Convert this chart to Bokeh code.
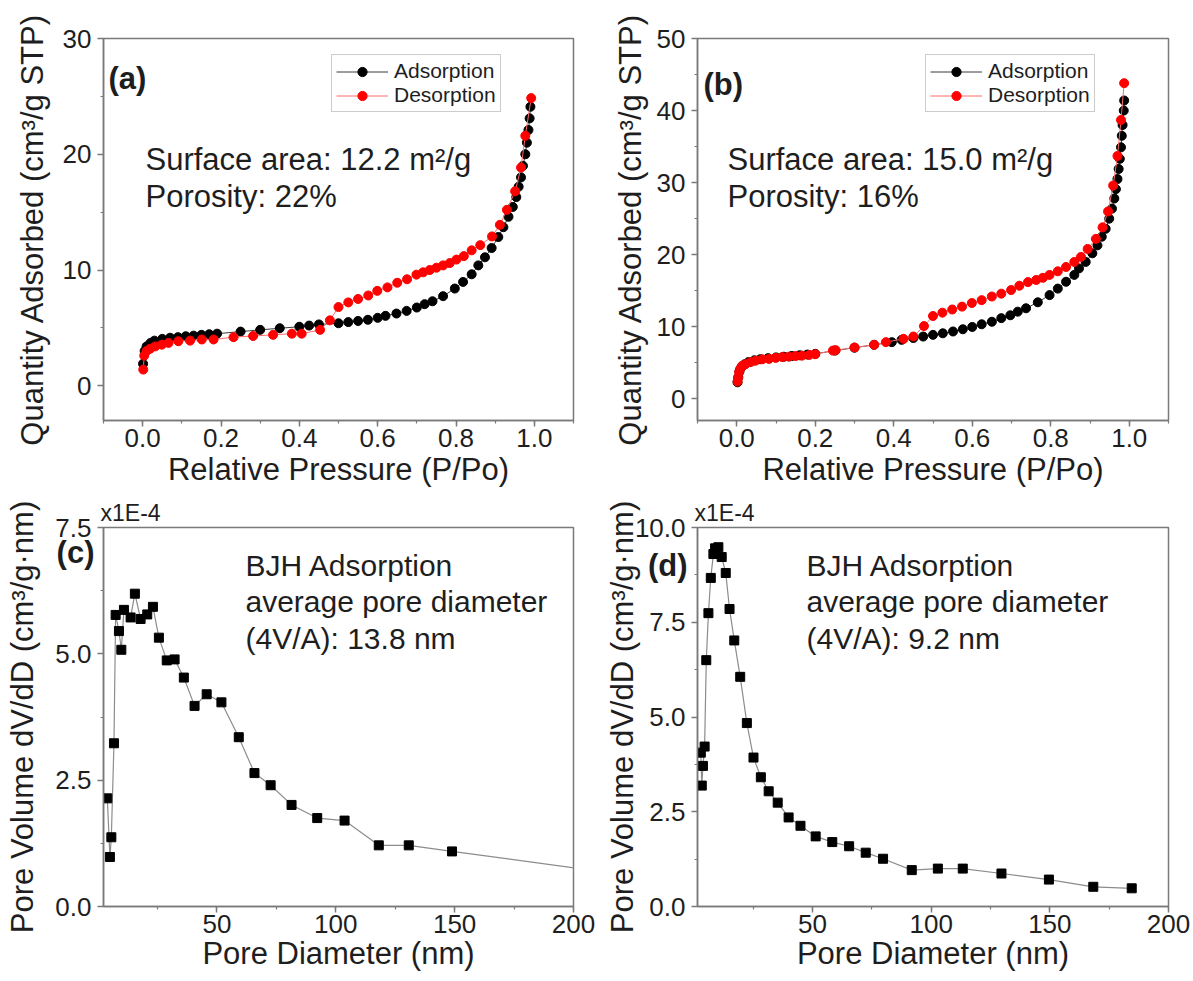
from bokeh.plotting import figure
from bokeh.layouts import column, row
from bokeh.models import (Range1d, SingleIntervalTicker, Label, Legend, LegendItem,
                          PrintfTickFormatter, LinearAxis, FixedTicker, CustomJSTickFormatter)
from bokeh.embed import file_html
from bokeh.resources import INLINE

# ---------------- data ----------------
# (a) isotherm, relative pressure P/Po vs quantity adsorbed (cm3/g STP)
ads_a_x = [0.001, 0.005, 0.01, 0.02, 0.03, 0.05, 0.07, 0.09, 0.11, 0.13, 0.15, 0.17, 0.19,
           0.25, 0.30, 0.35, 0.40, 0.425, 0.45, 0.50, 0.525, 0.55, 0.575, 0.60, 0.62, 0.648,
           0.674, 0.70, 0.72, 0.74, 0.767, 0.797, 0.818, 0.84, 0.857, 0.874, 0.891, 0.908,
           0.921, 0.934, 0.945, 0.954, 0.96, 0.966, 0.971, 0.977, 0.981, 0.985, 0.988, 0.99]
ads_a_y = [1.9, 3.0, 3.4, 3.7, 3.9, 4.05, 4.15, 4.2, 4.28, 4.33, 4.4, 4.45, 4.5,
           4.68, 4.83, 4.97, 5.1, 5.2, 5.3, 5.4, 5.5, 5.6, 5.7, 5.87, 6.04, 6.24,
           6.47, 6.76, 7.05, 7.3, 7.74, 8.4, 8.97, 9.63, 10.4, 11.1, 11.9, 12.85,
           13.7, 14.6, 15.45, 16.3, 17.2, 18.0, 19.0, 20.0, 21.0, 22.1, 23.1, 24.1]
des_a_x = [0.992, 0.977, 0.966, 0.951, 0.93, 0.912, 0.892, 0.862, 0.84, 0.82, 0.801, 0.784,
           0.767, 0.75, 0.733, 0.716, 0.699, 0.675, 0.65, 0.625, 0.599, 0.576, 0.55, 0.525,
           0.5, 0.478, 0.453, 0.406, 0.381, 0.333, 0.282, 0.232, 0.181, 0.151, 0.121, 0.091,
           0.066, 0.049, 0.032, 0.019, 0.01, 0.004, 0.0015]
des_a_y = [24.85, 21.6, 18.85, 16.8, 15.2, 13.9, 12.9, 12.15, 11.7, 11.2, 10.9, 10.6,
           10.4, 10.2, 10.0, 9.8, 9.6, 9.2, 8.9, 8.5, 8.2, 7.8, 7.5, 7.2,
           6.8, 5.65, 4.83, 4.5, 4.5, 4.4, 4.3, 4.2, 4.0, 4.0, 3.9, 3.85,
           3.7, 3.55, 3.4, 3.2, 3.0, 2.6, 1.4]

# (b) isotherm
ads_b_x = [0.002, 0.004, 0.007, 0.012, 0.02, 0.03, 0.045, 0.06, 0.08, 0.1, 0.12, 0.14, 0.16,
           0.18, 0.2, 0.25, 0.3, 0.35, 0.395, 0.42, 0.45, 0.475, 0.5, 0.525, 0.551, 0.576,
           0.6, 0.624, 0.65, 0.674, 0.697, 0.716, 0.737, 0.767, 0.797, 0.818, 0.839, 0.86,
           0.872, 0.889, 0.906, 0.919, 0.93, 0.94, 0.949, 0.956, 0.962, 0.966, 0.97, 0.973,
           0.976, 0.979, 0.981, 0.983, 0.986, 0.987]
ads_b_y = [2.3, 3.0, 3.8, 4.4, 4.8, 5.1, 5.35, 5.5, 5.65, 5.75, 5.85, 5.95, 6.05,
           6.15, 6.25, 6.7, 7.1, 7.5, 7.87, 8.19, 8.45, 8.65, 8.88, 9.1, 9.35, 9.66,
           9.98, 10.35, 10.7, 11.2, 11.6, 12.1, 12.57, 13.4, 14.4, 15.3, 16.25, 17.2,
           18.1, 19.0, 20.2, 21.3, 22.5, 23.6, 25.0, 26.4, 27.8, 29.1, 30.5, 31.9,
           33.3, 34.9, 36.5, 38.0, 40.0, 41.4]
des_b_x = [0.987, 0.979, 0.97, 0.959, 0.946, 0.932, 0.915, 0.894, 0.877, 0.86, 0.839, 0.818,
           0.797, 0.78, 0.763, 0.742, 0.72, 0.699, 0.674, 0.65, 0.624, 0.599, 0.574, 0.549,
           0.524, 0.5, 0.477, 0.45, 0.425, 0.38, 0.35, 0.3, 0.252, 0.245, 0.2, 0.185, 0.166,
           0.15, 0.133, 0.116, 0.099, 0.082, 0.065, 0.048, 0.035, 0.022, 0.014, 0.008,
           0.006, 0.003, 0.002]
des_b_y = [43.8, 38.7, 33.7, 29.6, 26.0, 23.8, 22.2, 20.8, 19.7, 19.0, 18.3, 17.7,
           17.2, 16.8, 16.5, 16.2, 15.7, 15.1, 14.6, 14.2, 13.7, 13.3, 12.8, 12.4,
           11.96, 11.5, 10.1, 8.65, 8.33, 7.87, 7.5, 7.13, 6.75, 6.7, 6.2, 6.1, 6.0,
           5.95, 5.85, 5.8, 5.7, 5.55, 5.5, 5.3, 5.1, 4.8, 4.6, 4.1,
           3.7, 2.9, 2.4]

# (c) BJH pore size distribution, dV/dD in units of 1E-4 cm3/g.nm
c_x = [3.9, 5.0, 5.6, 6.7, 7.4, 8.8, 9.8, 10.9, 13.7, 15.5, 17.9, 20.7, 23.1, 25.6, 28.9,
       32.2, 36.1, 40.6, 45.7, 51.9, 59.2, 65.8, 72.6, 81.4, 92.2, 103.7, 118.1, 130.7,
       148.9, 225.0]
c_y = [2.14, 0.98, 1.37, 3.23, 5.77, 5.45, 5.08, 5.87, 5.72, 6.19, 5.69, 5.78, 5.93, 5.32,
       4.87, 4.89, 4.53, 3.97, 4.2, 4.04, 3.35, 2.64, 2.4, 2.01, 1.75, 1.7, 1.21, 1.21,
       1.09, 0.61]

# (d) BJH pore size distribution, dV/dD in units of 1E-4 cm3/g.nm
d_x = [2.9, 3.3, 3.8, 4.5, 5.2, 6.1, 7.1, 8.2, 8.9, 10.3, 11.7, 13.4, 15.0, 17.0, 19.5,
       22.3, 25.1, 28.2, 31.5, 35.3, 39.9, 44.9, 51.3, 58.3, 65.4, 72.4, 79.7, 91.8,
       102.8, 113.3, 129.6, 149.6, 168.3, 184.5]
d_y = [4.06, 3.19, 3.71, 4.22, 6.5, 7.74, 8.67, 9.3, 9.45, 9.48, 9.22, 8.8, 7.85, 7.02,
       6.06, 4.84, 3.93, 3.41, 3.04, 2.74, 2.35, 2.13, 1.85, 1.70, 1.59, 1.42, 1.26, 0.96,
       1.0, 1.0, 0.87, 0.71, 0.52, 0.48]

iso_x_label = "Relative Pressure (P/Po)"
iso_y_label = "Quantity Adsorbed (cm\u00b3/g STP)"
psd_x_label = "Pore Diameter (nm)"
psd_y_label = "Pore Volume dV/dD (cm\u00b3/g\u00b7nm)"
psd_multiplier = "x1E-4"

# ---------------- styling ----------------
FONT = "Liberation Sans"
GRAY = "#7a7a7a"
TXT = "#1e1e1e"
H1 = 382   # frame height, top row
H2 = 380   # frame height, bottom row


def make_fig(width, height, xr, yr, bl, br, bt, bb, xint, yint, xfmt, yfmt,
             xlabel, ylabel, ylab_standoff, xlab_standoff, title=None):
    kw = {}
    if title is not None:
        kw["title"] = title
    p = figure(width=width, height=height, x_range=Range1d(*xr), y_range=Range1d(*yr),
               output_backend="svg", toolbar_location=None,
               min_border_left=bl, min_border_right=br,
               min_border_top=bt, min_border_bottom=bb, **kw)
    if title is not None:
        p.title.align = "left"
        p.title.offset = -3
        p.title.standoff = 3
        p.title.text_font = FONT
        p.title.text_font_size = "23px"
        p.title.text_font_style = "normal"
        p.title.text_color = TXT
    p.xgrid.visible = False
    p.ygrid.visible = False
    p.outline_line_color = GRAY
    p.outline_line_width = 1.5
    p.outline_line_alpha = 1.0
    p.xaxis[0].ticker = SingleIntervalTicker(interval=xint, num_minor_ticks=2)
    p.yaxis[0].ticker = SingleIntervalTicker(interval=yint, num_minor_ticks=2)
    p.xaxis[0].formatter = PrintfTickFormatter(format=xfmt)
    p.yaxis[0].formatter = PrintfTickFormatter(format=yfmt)
    p.xaxis[0].axis_label = xlabel
    p.yaxis[0].axis_label = ylabel
    for ax in (p.xaxis[0], p.yaxis[0]):
        ax.axis_line_color = GRAY
        ax.axis_line_width = 1.5
        ax.major_tick_line_color = GRAY
        ax.major_tick_line_width = 1.5
        ax.major_tick_in = 0
        ax.major_tick_out = 6
        ax.minor_tick_line_color = GRAY
        ax.minor_tick_line_width = 1.2
        ax.minor_tick_in = 0
        ax.minor_tick_out = 3
        ax.major_label_text_font = FONT
        ax.major_label_text_font_size = "26px"
        ax.major_label_text_color = TXT
        ax.axis_label_text_font = FONT
        ax.axis_label_text_font_size = "31px"
        ax.axis_label_text_font_style = "normal"
        ax.axis_label_text_color = TXT
    p.xaxis[0].major_label_standoff = 2
    p.xaxis[0].axis_label_standoff = xlab_standoff
    p.yaxis[0].major_label_standoff = 6
    p.yaxis[0].axis_label_standoff = ylab_standoff
    return p


def panel_tag(p, tick_y, tag, standoff, ylabel, label_standoff):
    """Bold panel tag drawn in the left margin (outside the frame), carrying the y label."""
    ax = LinearAxis(ticker=FixedTicker(ticks=[tick_y], minor_ticks=[]),
                    formatter=CustomJSTickFormatter(code="return '%s';" % tag),
                    axis_line_color=None, major_tick_line_color=None,
                    minor_tick_line_color=None, major_tick_in=0, major_tick_out=0,
                    minor_tick_in=0, minor_tick_out=0, major_label_standoff=standoff,
                    major_label_text_font=FONT, major_label_text_font_size="31px",
                    major_label_text_font_style="bold", major_label_text_color=TXT,
                    axis_label=ylabel, axis_label_standoff=label_standoff,
                    axis_label_text_font=FONT, axis_label_text_font_size="31px",
                    axis_label_text_font_style="normal", axis_label_text_color=TXT)
    p.add_layout(ax, "left")


def add_text(p, x, y, text, size="31px", bold=False):
    p.add_layout(Label(x=x, y=y, x_units="screen", y_units="screen", text=text,
                       text_font=FONT, text_font_size=size, text_color=TXT,
                       text_font_style="bold" if bold else "normal",
                       text_baseline="alphabetic", text_align="left"))


def isotherm(p, ax, ay, dx, dy, leg_x):
    l1 = p.line(ax, ay, line_color="#3a3a3a", line_width=1)
    s1 = p.scatter(ax, ay, marker="circle", size=9, fill_color="black", line_color="black")
    l2 = p.line(dx, dy, line_color="#ff6a6a", line_width=1)
    s2 = p.scatter(dx, dy, marker="circle", size=9, fill_color="red", line_color="red")
    leg = Legend(items=[LegendItem(label="Adsorption", renderers=[l1, s1]),
                        LegendItem(label="Desorption", renderers=[l2, s2])],
                 location=(leg_x, 308), orientation="vertical",
                 padding=4, spacing=0, margin=0, glyph_width=52, glyph_height=23,
                 label_height=23, label_standoff=6, label_text_font=FONT,
                 label_text_font_size="21px", label_text_color=TXT,
                 border_line_color="#9a9a9a", border_line_width=1.5,
                 background_fill_color="white", background_fill_alpha=1.0)
    p.add_layout(leg)


# ---------------- panels ----------------
pa = make_fig(600, 496, (-0.1, 1.1), (-3, 30), 103, 27, 38, 76, 0.2, 10, "%.1f", "%d",
              iso_x_label, iso_y_label, 10, 2)
isotherm(pa, ads_a_x, ads_a_y, des_a_x, des_a_y, 228)
add_text(pa, 5, H1 - 40, "(a)", "31px", bold=True)
add_text(pa, 42, H1 - 121, "Surface area: 12.2 m\u00b2/g")
add_text(pa, 42, H1 - 158, "Porosity: 22%")

pb = make_fig(590, 496, (-0.1, 1.1), (-3, 50), 97, 22, 38, 76, 0.2, 10, "%.1f", "%d",
              iso_x_label, iso_y_label, 6, 2)
isotherm(pb, ads_b_x, ads_b_y, des_b_x, des_b_y, 228)
add_text(pb, 6, H1 - 46, "(b)", "31px", bold=True)
add_text(pb, 30, H1 - 121, "Surface area: 15.0 m\u00b2/g")
add_text(pb, 30, H1 - 158, "Porosity: 16%")

pc = make_fig(600, 484, (2.3, 200), (0, 7.5), 103, 27, 30, 74, 50, 2.5, "%d", "%.1f",
              psd_x_label, None, 0, 0, title=psd_multiplier)
pc.line(c_x, c_y, line_color="#8c8c8c", line_width=1.2)
pc.scatter(c_x, c_y, marker="square", size=9, fill_color="black", line_color="black")
panel_tag(pc, 7.0, "(c)", -42, psd_y_label, 14)
add_text(pc, 142, H2 - 39, "BJH Adsorption", "30px")
add_text(pc, 142, H2 - 75, "average pore diameter", "30px")
add_text(pc, 142, H2 - 112, "(4V/A): 13.8 nm", "30px")

pd_ = make_fig(590, 484, (1.5, 200), (0, 10), 97, 22, 30, 74, 50, 2.5, "%d", "%.1f",
               psd_x_label, None, 0, 0, title=psd_multiplier)
pd_.line(d_x, d_y, line_color="#8c8c8c", line_width=1.2)
pd_.scatter(d_x, d_y, marker="square", size=9, fill_color="black", line_color="black")
panel_tag(pd_, 9.0, "(d)", -56, psd_y_label, 5)
add_text(pd_, 109, H2 - 39, "BJH Adsorption", "30px")
add_text(pd_, 109, H2 - 75, "average pore diameter", "30px")
add_text(pd_, 109, H2 - 112, "(4V/A): 9.2 nm", "30px")

layout = column(row(pa, pb), row(pc, pd_))

open("out.html", "w").write(file_html(layout, INLINE))
